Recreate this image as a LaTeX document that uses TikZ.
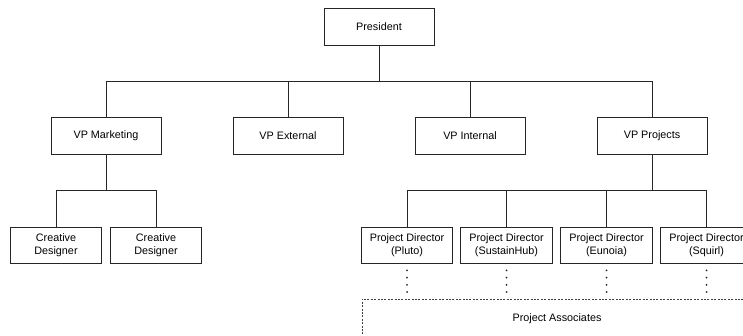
\documentclass[tikz,border=0pt]{standalone}
\usepackage{fontspec}
\setmainfont{Liberation Sans}
\begin{document}
\begin{tikzpicture}[x=1pt,y=-1pt,
  box/.style={draw=black!85, line width=0.8pt, fill=white, align=center, inner sep=0pt,
    font=\fontsize{10.8}{13.2}\selectfont},
  vpbox/.style={box, minimum width=110pt, minimum height=37pt},
  subbox/.style={box, minimum width=91.5pt, minimum height=36pt},
  conn/.style={draw=black!85, line width=0.8pt},
  dotline/.style={draw=black!85, line width=2pt, line cap=round, dash pattern=on 0pt off 7.2pt, dash phase=0.2pt},
  assoc/.style={draw=black!75, line width=0.9pt, dash pattern=on 2pt off 1.4pt, align=center, inner sep=0pt,
    font=\fontsize{10.8}{13.2}\selectfont}]
\useasboundingbox (0,0) rectangle (743,335);
\clip (0,0) rectangle (743,335);
\node[vpbox] (pres) at (379,26.5) {President};
\node[vpbox] (vpm) at (106,135.5) {VP Marketing};
\node[vpbox] (vpe) at (288,135.5) {VP External};
\node[vpbox] (vpi) at (470,135.5) {VP Internal};
\node[vpbox] (vpp) at (652,135.5) {VP Projects};
\node[subbox] (cd1) at (56,245) {Creative\\Designer};
\node[subbox] (cd2) at (156,245) {Creative\\Designer};
\node[subbox] (pd1) at (407,245) {Project Director\\(Pluto)};
\node[subbox] (pd2) at (506.5,245) {Project Director\\(SustainHub)};
\node[subbox] (pd3) at (606.5,245) {Project Director\\(Eunoia)};
\node[subbox] (pd4) at (706.5,245) {Project Director\\(Squirl)};
\node[assoc, minimum width=390pt, minimum height=40pt, text depth=0pt] (pa) at (557,319) {\raisebox{2pt}{Project Associates}};
\coordinate (bus) at (0,81);
\coordinate (sub) at (0,190.5);
\path[conn] (pres.south) -- (pres.south |- bus);
\path[conn] (vpm.north) -- (vpm.north |- bus) -- (vpp.north |- bus) -- (vpp.north);
\path[conn] (vpe.north) -- (vpe.north |- bus);
\path[conn] (vpi.north) -- (vpi.north |- bus);
\path[conn] (vpm.south) -- (vpm.south |- sub);
\path[conn] (cd1.north) -- (cd1.north |- sub) -- (cd2.north |- sub) -- (cd2.north);
\path[conn] (vpp.south) -- (vpp.south |- sub);
\path[conn] (pd1.north) -- (pd1.north |- sub) -- (pd4.north |- sub) -- (pd4.north);
\path[conn] (pd2.north) -- (pd2.north |- sub);
\path[conn] (pd3.north) -- (pd3.north |- sub);
\path[dotline] (pd1.south) -- (pd1.south |- pa.north);
\path[dotline] (pd2.south) -- (pd2.south |- pa.north);
\path[dotline] (pd3.south) -- (pd3.south |- pa.north);
\path[dotline] (pd4.south) -- (pd4.south |- pa.north);
\end{tikzpicture}
\end{document}
